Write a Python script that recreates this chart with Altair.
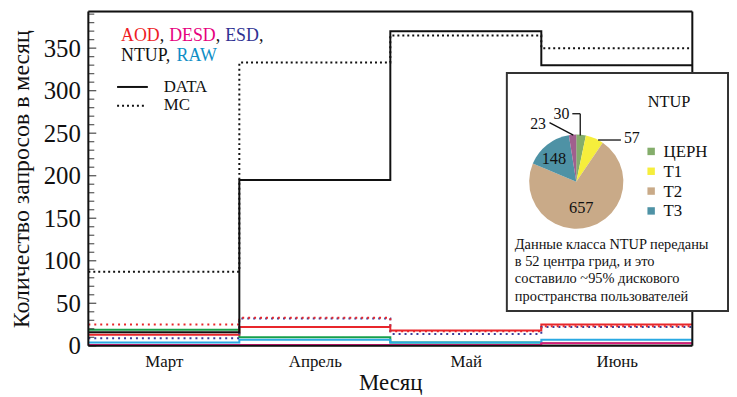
import altair as alt
import pandas as pd

FONT = "'Liberation Serif', 'Times New Roman', 'DejaVu Serif', serif"

# ---------------- data ----------------
months = ["Март", "Апрель", "Май", "Июнь"]

line_ids = ["ESD DATA", "RAW DATA", "DESD DATA", "AOD DATA", "ESD MC", "AOD MC", "NTUP DATA", "NTUP MC"]
esd_data = [19, 10, 4, 3]
raw_data = [4, 7, 4, 7]
desd_data = [1, 1, 1, 3]
aod_data = [13, 22, 18, 25]
esd_mc = [9, 32, 14, 22]
aod_mc = [25, 33, 17, 23]
ntup_data = [16, 195, 370, 330]
ntup_mc = [87, 333, 365, 350]
series_values = [esd_data, raw_data, desd_data, aod_data, esd_mc, aod_mc, ntup_data, ntup_mc]

line_colors = ["#17a04a", "#2aa9e3", "#e0197f", "#e8262b", "#3b3d99", "#e8262b", "#111111", "#111111"]
line_dashes = [[1, 0], [1, 0], [1, 0], [1, 0], [2, 4], [2, 4], [1, 0], [2, 3]]

y_major = [0, 50, 100, 150, 200, 250, 300, 350]
y_minor = [v for v in range(10, 400, 10) if v % 50 != 0]

pie_keys = ["ЦЕРН", "T1", "T2", "T3", "other"]
pie_values = [30, 57, 657, 148, 23]
pie_colors = ["#84ad6b", "#f6ee3c", "#c9aa88", "#4e92a5", "#a0608e"]

rows = []
for lid, vals in zip(line_ids, series_values):
    for i, v in enumerate(vals + [vals[-1]]):
        rows.append({"line": lid, "x": i, "value": v})
df = pd.DataFrame(rows)

# plot origin on the page
OX, OY = 88, 9
W, H = 609, 337

yscale = alt.Scale(domain=[0, 393], nice=False, zero=False)
xscale = alt.Scale(domain=[0, 4], nice=False, zero=False)

label_expr = "[" + ",".join("'" + m + "'" for m in months) + "][floor(datum.value)]"

xaxis = alt.Axis(
    values=[0.5, 1.5, 2.5, 3.5], labelExpr=label_expr, title="Месяц",
    ticks=False, tickSize=0, domain=False, grid=False,
    labelFont=FONT, labelFontSize=17, labelColor="#111", labelPadding=8,
    titleFont=FONT, titleFontSize=23, titleFontWeight="normal", titleColor="#111", titlePadding=2)
yaxis = alt.Axis(
    values=y_major, title="Количество запросов в месяц",
    ticks=False, tickSize=0, domain=False, grid=False,
    labelFont=FONT, labelFontSize=25, labelColor="#111", labelPadding=8,
    titleFont=FONT, titleFontSize=24, titleFontWeight="normal", titleColor="#111", titlePadding=10)

yenc = alt.Y("value:Q", scale=yscale, axis=yaxis)

lines = alt.Chart(df).mark_line(interpolate="step-after", strokeWidth=2).encode(
    x=alt.X("x:Q", scale=xscale, axis=xaxis), y=yenc,
    color=alt.Color("line:N", scale=alt.Scale(domain=line_ids, range=line_colors), legend=None),
    strokeDash=alt.StrokeDash("line:N", scale=alt.Scale(domain=line_ids, range=line_dashes), legend=None),
)

major_ticks = alt.Chart(pd.DataFrame({"value": y_major})).mark_tick(color="#111", size=8, thickness=1.3).encode(
    y=yenc, x=alt.value(4))
minor_ticks = alt.Chart(pd.DataFrame({"value": y_minor})).mark_tick(color="#111", size=6, thickness=1.2).encode(
    y=yenc, x=alt.value(3))


def txt(s, x, y, color="#111", size=18, align="left", baseline="alphabetic", **kw):
    return alt.Chart(pd.DataFrame({"t": [s]})).mark_text(
        align=align, baseline=baseline, font=FONT, fontSize=size, color=color, **kw
    ).encode(x=alt.value(x - OX), y=alt.value(y - OY), text="t:N")


def rule(x1, y1, x2, y2, color="#111", width=1.5, dash=None):
    kw = {"color": color, "strokeWidth": width}
    if dash:
        kw["strokeDash"] = dash
    return alt.Chart(pd.DataFrame({"a": [0]})).mark_rule(**kw).encode(
        x=alt.value(x1 - OX), x2=alt.value(x2 - OX), y=alt.value(y1 - OY), y2=alt.value(y2 - OY))


# frame around the plot area
frame = [
    rule(OX, OY, OX + W, OY, width=2),
    rule(OX, OY + H, OX + W, OY + H, width=2),
    rule(OX, OY, OX, OY + H, width=2),
    rule(OX + W, OY, OX + W, OY + H, width=2),
]

# top-left legend
legend_layers = [
    txt("AOD", 121, 39, color="#ee1c25"),
    txt(",", 160, 39),
    txt("DESD", 169.5, 39, color="#e6007e"),
    txt(",", 216.5, 39),
    txt("ESD", 226, 39, color="#2e3192"),
    txt(",", 260, 39),
    txt("NTUP,", 121, 59),
    txt("RAW", 177, 59, color="#0f8ec6"),
    rule(117, 85, 148, 85, width=2),
    rule(117, 104, 147, 104, width=2, dash=[2, 3]),
    txt("DATA", 164, 90, size=17),
    txt("MC", 164, 108, size=17),
]

# inset
box = alt.Chart(pd.DataFrame({"a": [0]})).mark_rect(fill="white", stroke="#333", strokeWidth=2).encode(
    x=alt.value(510 - OX), x2=alt.value(733 - OX), y=alt.value(71 - OY), y2=alt.value(311 - OY))

pie_df = pd.DataFrame({"k": pie_keys, "n": pie_values, "i": list(range(len(pie_keys)))})
pie = alt.Chart(pie_df).mark_arc(outerRadius=47.5).encode(
    theta=alt.Theta("n:Q", stack=True),
    color=alt.Color("k:N", scale=alt.Scale(domain=pie_keys, range=pie_colors), legend=None),
    order=alt.Order("i:Q"),
    x=alt.value(580 - OX), y=alt.value(180.5 - OY))

inset_layers = [
    box, pie,
    txt("NTUP", 652, 105, size=16.5),
    rule(576, 112, 584, 112, width=1.3), rule(584, 112, 584, 134, width=1.3),
    rule(553, 121, 577, 133.5, width=1.3),
    rule(602, 138.5, 625, 138.5, width=1.3),
    txt("30", 565, 112, size=16, align="center", baseline="middle"),
    txt("23", 541.5, 122, size=16, align="center", baseline="middle"),
    txt("57", 636, 137, size=16, align="center", baseline="middle"),
    txt("148", 557.5, 158, size=16.5, align="center", baseline="middle"),
    txt("657", 585, 207, size=16.5, align="center", baseline="middle"),
]
leg_y = [150, 170, 190, 210]
for k, c, yy in zip(pie_keys[:4], pie_colors[:4], leg_y):
    inset_layers.append(
        alt.Chart(pd.DataFrame({"a": [0]})).mark_square(size=56, color=c, opacity=1).encode(
            x=alt.value(655.5 - OX), y=alt.value(yy - OY)))
    inset_layers.append(txt(k, 668, yy + 5.5, size=17))

para = alt.Chart(pd.DataFrame({"a": [0]})).mark_text(
    align="left", baseline="alphabetic", font=FONT, fontSize=14.5, color="#111",
    lineHeight=17.5,
    text=["Данные класса NTUP переданы", "в 52 центра грид, и это",
          "составило ~95% дискового", "пространства пользователей"],
).encode(x=alt.value(518 - OX), y=alt.value(248 - OY))
inset_layers.append(para)

chart = alt.layer(lines, major_ticks, minor_ticks, *frame, *legend_layers, *inset_layers).resolve_scale(
    color="independent"
).properties(
    width=W, height=H, padding={"top": 1, "left": 1, "right": 0, "bottom": 0}
).configure_view(strokeWidth=0).configure(font=FONT)

chart.save("out.html", embed_options={"renderer": "svg", "actions": False})
